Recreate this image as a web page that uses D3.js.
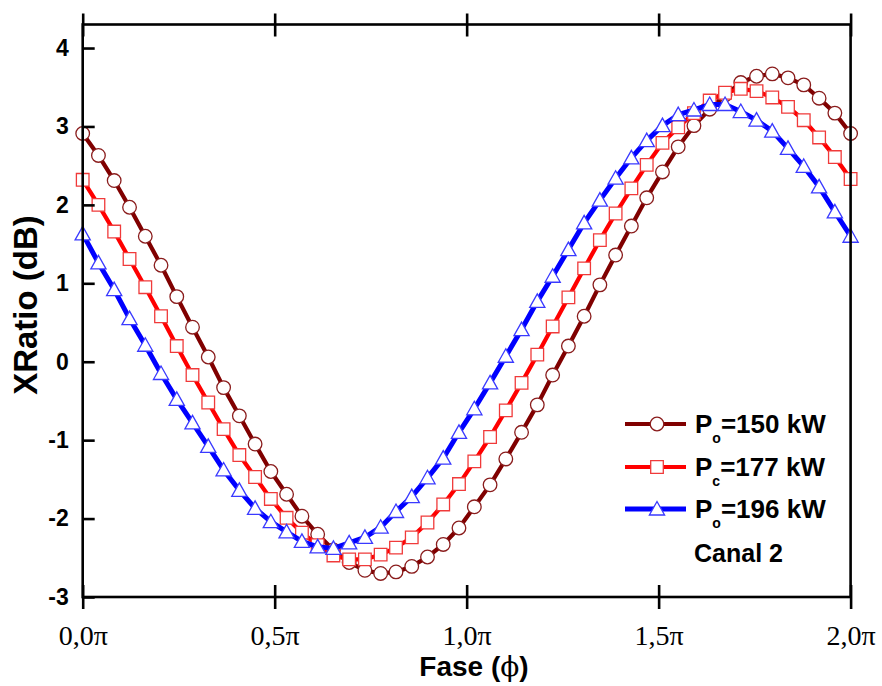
<!DOCTYPE html>
<html>
<head>
<meta charset="utf-8">
<script src="https://cdn.jsdelivr.net/npm/d3@7"></script>
<style>
  html, body { margin: 0; padding: 0; background: #fff; }
  svg { display: block; }
</style>
</head>
<body>
<svg id="chart" width="882" height="686"></svg>
<script>
// ---- data ----
const phase = [0, 0.041, 0.082, 0.122, 0.163, 0.204, 0.245, 0.286, 0.327, 0.367,
  0.408, 0.449, 0.490, 0.531, 0.571, 0.612, 0.653, 0.694, 0.735, 0.776,
  0.816, 0.857, 0.898, 0.939, 0.980, 1.020, 1.061, 1.102, 1.143, 1.184,
  1.224, 1.265, 1.306, 1.347, 1.388, 1.429, 1.469, 1.510, 1.551, 1.592,
  1.633, 1.673, 1.714, 1.755, 1.796, 1.837, 1.878, 1.918, 1.959, 2.0];

const po150 = [2.91, 2.63, 2.31, 1.97, 1.60, 1.23, 0.83, 0.44, 0.06, -0.33,
  -0.69, -1.05, -1.40, -1.69, -1.97, -2.20, -2.40, -2.56, -2.66, -2.70,
  -2.68, -2.61, -2.49, -2.33, -2.12, -1.85, -1.57, -1.24, -0.90, -0.55,
  -0.17, 0.20, 0.58, 0.98, 1.36, 1.73, 2.09, 2.42, 2.74, 3.01,
  3.22, 3.40, 3.56, 3.64, 3.67, 3.62, 3.53, 3.36, 3.17, 2.91];

const pc177 = [2.32, 2.00, 1.66, 1.31, 0.95, 0.58, 0.20, -0.17, -0.52, -0.86,
  -1.19, -1.47, -1.75, -1.99, -2.18, -2.34, -2.47, -2.52, -2.52, -2.46,
  -2.37, -2.24, -2.05, -1.82, -1.56, -1.27, -0.96, -0.62, -0.27, 0.09,
  0.45, 0.82, 1.19, 1.55, 1.89, 2.21, 2.51, 2.79, 2.99, 3.17,
  3.33, 3.43, 3.48, 3.45, 3.37, 3.25, 3.08, 2.86, 2.61, 2.33];

const po196 = [1.63, 1.26, 0.92, 0.55, 0.21, -0.15, -0.48, -0.78, -1.08, -1.38,
  -1.64, -1.87, -2.04, -2.17, -2.29, -2.36, -2.38, -2.31, -2.24, -2.11,
  -1.91, -1.72, -1.48, -1.23, -0.90, -0.60, -0.27, 0.07, 0.41, 0.77,
  1.09, 1.43, 1.77, 2.06, 2.34, 2.60, 2.82, 3.01, 3.15, 3.21,
  3.28, 3.28, 3.19, 3.08, 2.94, 2.72, 2.49, 2.23, 1.91, 1.60];

const seriesNames = ["o", "c", "o"];
const seriesLabels = ["=150 kW", "=177 kW", "=196 kW"];
const xTickValues = [0, 0.5, 1.0, 1.5, 2.0];
const xTickLabels = ["0,0π", "0,5π", "1,0π", "1,5π", "2,0π"];
const yTickValues = [-3, -2, -1, 0, 1, 2, 3, 4];
const yTickLabels = ["-3", "-2", "-1", "0", "1", "2", "3", "4"];

// ---- layout ----
const L = 82.7, R = 850.6, T = 24.5, B = 597;
const svg = d3.select("#chart");
const x = d3.scaleLinear().domain([0, 2]).range([L, R]);
const y = d3.scaleLinear().domain([-3, 4.3]).range([B, T]);

const styles = [
  { line: "#800000", stroke: "#8a1c1c", shape: "circle", lw: 4.2 },
  { line: "#ff0000", stroke: "#f03a3a", shape: "square", lw: 4.2 },
  { line: "#0000ff", stroke: "#3a3aff", shape: "triangle", lw: 5 }
];
const allSeries = [po150, pc177, po196];

function markerPath(shape) {
  if (shape === "circle") return d3.symbol().type(d3.symbolCircle).size(Math.PI * 6.8 * 6.8)();
  if (shape === "square") return "M-6.3,-6.3H6.3V6.3H-6.3Z";
  return "M0,-7.5L7.6,6H-7.6Z";
}

const plot = svg.append("g");
const lineGen = d3.line().x((d, i) => x(phase[i])).y(d => y(d));

allSeries.forEach((vals, s) => {
  const st = styles[s];
  const g = plot.append("g");
  g.append("path").datum(vals)
    .attr("d", lineGen)
    .attr("fill", "none")
    .attr("stroke", st.line)
    .attr("stroke-width", st.lw)
    .attr("stroke-linejoin", "round");
  g.selectAll("path.m").data(vals).enter().append("path")
    .attr("class", "m")
    .attr("d", markerPath(st.shape))
    .attr("transform", (d, i) => `translate(${x(phase[i])},${y(d)})`)
    .attr("fill", "#fff")
    .attr("stroke", st.stroke)
    .attr("stroke-width", 1.3);
});

// ---- axes ----
const axisW = 2.6;
function styleAxis(g) {
  g.select(".domain").remove();
  g.selectAll(".tick line").attr("stroke", "#000").attr("stroke-width", axisW);
}
svg.append("rect").attr("x", L).attr("y", T).attr("width", R - L).attr("height", B - T)
  .attr("fill", "none").attr("stroke", "#000").attr("stroke-width", axisW);

const xb = svg.append("g").attr("transform", `translate(0,${B})`)
  .call(d3.axisBottom(x).tickValues(xTickValues).tickFormat((d, i) => xTickLabels[i]).tickSize(12).tickPadding(16));
styleAxis(xb);
xb.selectAll(".tick line").attr("y1", -12);
xb.selectAll(".tick text")
  .attr("font-family", "'Liberation Serif', 'Times New Roman', serif")
  .attr("font-size", 28).attr("fill", "#000");

const xt = svg.append("g").attr("transform", `translate(0,${T})`)
  .call(d3.axisTop(x).tickValues(xTickValues).tickFormat("").tickSize(11));
styleAxis(xt);
xt.selectAll(".tick line").attr("y1", 12);

const yl = svg.append("g").attr("transform", `translate(${L},0)`)
  .call(d3.axisLeft(y).tickValues(yTickValues).tickFormat((d, i) => yTickLabels[i]).tickSize(-12).tickPadding(14));
styleAxis(yl);
yl.selectAll(".tick text")
  .attr("font-family", "'Liberation Sans', Arial, sans-serif")
  .attr("font-weight", "bold").attr("font-size", 23).attr("fill", "#000");

// axis titles
svg.append("text")
  .attr("x", 474).attr("y", 676).attr("text-anchor", "middle")
  .attr("font-family", "'Liberation Sans', Arial, sans-serif")
  .attr("font-weight", "bold").attr("font-size", 28)
  .call(t => {
    t.append("tspan").text("Fase (");
    t.append("tspan").attr("font-family", "'DejaVu Serif', serif").attr("font-weight", "normal").text("ϕ");
    t.append("tspan").text(")");
  });

svg.append("text")
  .attr("transform", "translate(37,305) rotate(-90)")
  .attr("text-anchor", "middle")
  .attr("font-family", "'Liberation Sans', Arial, sans-serif")
  .attr("font-weight", "bold").attr("font-size", 33)
  .text("XRatio (dB)");

// ---- legend ----
const legRows = [424, 467, 509];
styles.forEach((st, s) => {
  const cy = legRows[s];
  const g = svg.append("g");
  g.append("line").attr("x1", 625).attr("x2", 686).attr("y1", cy).attr("y2", cy)
    .attr("stroke", st.line).attr("stroke-width", st.lw);
  g.append("path").attr("d", markerPath(st.shape))
    .attr("transform", `translate(657,${cy})`)
    .attr("fill", "#fff").attr("stroke", st.stroke).attr("stroke-width", 1.3);
  const t = g.append("text").attr("x", 695).attr("y", cy + 9)
    .attr("font-family", "'Liberation Sans', Arial, sans-serif")
    .attr("font-weight", "bold").attr("font-size", 26).attr("fill", "#000");
  t.append("tspan").text("P");
  t.append("tspan").attr("font-size", 14).attr("dy", 10).text(seriesNames[s]);
  t.append("tspan").attr("dy", -10).text(seriesLabels[s]);
});
svg.append("text").attr("x", 694).attr("y", 562)
  .attr("font-family", "'Liberation Sans', Arial, sans-serif")
  .attr("font-weight", "bold").attr("font-size", 25).attr("fill", "#000")
  .text("Canal 2");
</script>
</body>
</html>
